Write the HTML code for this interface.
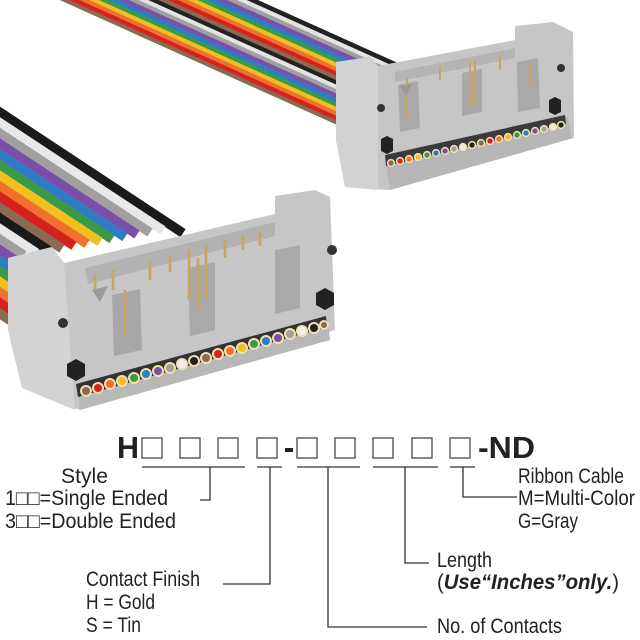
<!DOCTYPE html>
<html><head><meta charset="utf-8"><style>
html,body{margin:0;padding:0;background:#fff}
svg{display:block}
text{font-family:"Liberation Sans",sans-serif;fill:#222}
</style></head><body>
<svg width="640" height="640" viewBox="0 0 640 640" xmlns="http://www.w3.org/2000/svg">
<!-- Upper cable -->
<g stroke-width="4.6" stroke-linecap="butt">
<line x1="43" y1="-10" x2="355" y2="130.5" stroke="#8a6a50"/>
<line x1="52.85" y1="-10" x2="364.85" y2="130.5" stroke="#d8201e"/>
<line x1="62.7" y1="-10" x2="374.7" y2="130.5" stroke="#f07030"/>
<line x1="72.55" y1="-10" x2="384.55" y2="130.5" stroke="#f0c020"/>
<line x1="82.4" y1="-10" x2="394.4" y2="130.5" stroke="#3a9a4a"/>
<line x1="92.25" y1="-10" x2="404.25" y2="130.5" stroke="#2f7bc8"/>
<line x1="102.1" y1="-10" x2="414.1" y2="130.5" stroke="#7a4fa8"/>
<line x1="111.95" y1="-10" x2="423.95" y2="130.5" stroke="#a0a0a0"/>
<line x1="121.8" y1="-10" x2="433.8" y2="130.5" stroke="#e4e4e4"/>
<line x1="131.65" y1="-10" x2="443.65" y2="130.5" stroke="#222"/>
<line x1="141.5" y1="-10" x2="453.5" y2="130.5" stroke="#8a6a50"/>
<line x1="151.35" y1="-10" x2="463.35" y2="130.5" stroke="#d8201e"/>
<line x1="161.2" y1="-10" x2="473.2" y2="130.5" stroke="#f07030"/>
<line x1="171.05" y1="-10" x2="483.05" y2="130.5" stroke="#f0c020"/>
<line x1="180.9" y1="-10" x2="492.9" y2="130.5" stroke="#3a9a4a"/>
<line x1="190.75" y1="-10" x2="502.75" y2="130.5" stroke="#2f7bc8"/>
<line x1="200.6" y1="-10" x2="512.6" y2="130.5" stroke="#7a4fa8"/>
<line x1="210.45" y1="-10" x2="522.45" y2="130.5" stroke="#a0a0a0"/>
<line x1="220.3" y1="-10" x2="532.3" y2="130.5" stroke="#e4e4e4"/>
<line x1="230.15" y1="-10" x2="542.15" y2="130.5" stroke="#222"/>
</g>
<!-- Lower cable -->
<g stroke-width="9.5">
<line x1="-10" y1="105.7" x2="183" y2="233.1" stroke="#1a1a1a"/>
<line x1="-10" y1="116.3" x2="163" y2="230.5" stroke="#e8e8e8"/>
<line x1="-10" y1="126.9" x2="150" y2="232.5" stroke="#a0a0a0"/>
<line x1="-10" y1="137.5" x2="137" y2="234.5" stroke="#7a4fa8"/>
<line x1="-10" y1="148.1" x2="125" y2="237.2" stroke="#2f7bc8"/>
<line x1="-10" y1="158.7" x2="112" y2="239.2" stroke="#3a9a4a"/>
<line x1="-10" y1="169.3" x2="100" y2="241.9" stroke="#f0c020"/>
<line x1="-10" y1="179.9" x2="87" y2="243.9" stroke="#f07030"/>
<line x1="-10" y1="190.5" x2="74" y2="245.9" stroke="#d8201e"/>
<line x1="-10" y1="201.1" x2="62" y2="248.6" stroke="#8a6a50"/>
<line x1="-10" y1="211.7" x2="49" y2="250.6" stroke="#1a1a1a"/>
<line x1="-10" y1="222.3" x2="36" y2="252.7" stroke="#e8e8e8"/>
<line x1="-10" y1="232.9" x2="24" y2="255.3" stroke="#a0a0a0"/>
<line x1="-10" y1="243.5" x2="19" y2="262.6" stroke="#7a4fa8"/>
<line x1="-10" y1="254.1" x2="15" y2="270.6" stroke="#2f7bc8"/>
<line x1="-10" y1="264.7" x2="15" y2="281.2" stroke="#3a9a4a"/>
<line x1="-10" y1="275.3" x2="15" y2="291.8" stroke="#f0c020"/>
<line x1="-10" y1="285.9" x2="15" y2="302.4" stroke="#f07030"/>
<line x1="-10" y1="296.5" x2="15" y2="313" stroke="#d8201e"/>
<line x1="-10" y1="307.1" x2="15" y2="323.6" stroke="#8a6a50"/>
</g>

<!-- Back connector -->
<g>
<polygon points="336,62 370,57 378,66 515,40 515,26 553,22 573,32 574,138 390,190 345,187 336,140" fill="#c6c6c6"/>
<polygon points="336,62 370,57 378,66 378,190 345,187 336,140" fill="#d2d2d2"/>
<polygon points="395,72 515,48 515,58 395,82" fill="#b4b4b4"/>
<polygon points="398,85 418,81 420,128 400,132" fill="#a9a9a9"/>
<polygon points="462,73 482,69 482,112 462,116" fill="#a9a9a9"/>
<polygon points="517,62 538,58 540,108 518,112" fill="#a9a9a9"/>
<g stroke="#c8a65a" stroke-width="2">
<line x1="407" y1="78" x2="407" y2="120"/><line x1="440" y1="66" x2="440" y2="80"/><line x1="470" y1="62" x2="470" y2="108"/><line x1="475" y1="60" x2="475" y2="105"/><line x1="500" y1="56" x2="500" y2="70"/><line x1="530" y1="62" x2="530" y2="85"/>
</g>
<polygon points="400,86 412,84 406,96" fill="#9a9a9a"/>
<polygon points="385,158 568,117 572,138 390,190" fill="#b6b6b6"/>
<polygon points="385,155 565,115 566,124 386,166" fill="#3a3a3a"/>
<circle cx="381" cy="108" r="4" fill="#333"/>
<circle cx="561" cy="68" r="4" fill="#333"/>
<polygon points="381,139 387,136 393,139 393,151 387,154 381,151" fill="#222"/>
<polygon points="549,100 555,97 561,100 561,112 555,115 549,112" fill="#222"/>
<g stroke-width="1.5" stroke="#f0e0b0">
<circle cx="391" cy="163" r="3.4" fill="#8a6a50"/><circle cx="400" cy="161" r="3.4" fill="#d8201e"/><circle cx="409" cy="159" r="3.4" fill="#f07030"/><circle cx="418" cy="157" r="3.4" fill="#f0c020"/><circle cx="427" cy="155" r="3.4" fill="#3a9a4a"/><circle cx="436" cy="153" r="3.4" fill="#2f7bc8"/><circle cx="445" cy="151" r="3.4" fill="#7a4fa8"/><circle cx="454" cy="149" r="3.4" fill="#a0a0a0"/><circle cx="463" cy="147" r="3.4" fill="#eee"/><circle cx="472" cy="145" r="3.4" fill="#222"/><circle cx="481" cy="143" r="3.4" fill="#8a6a50"/><circle cx="490" cy="141" r="3.4" fill="#d8201e"/><circle cx="499" cy="139" r="3.4" fill="#f07030"/><circle cx="508" cy="137" r="3.4" fill="#f0c020"/><circle cx="517" cy="135" r="3.4" fill="#3a9a4a"/><circle cx="526" cy="133" r="3.4" fill="#2f7bc8"/><circle cx="535" cy="131" r="3.4" fill="#7a4fa8"/><circle cx="544" cy="129" r="3.4" fill="#a0a0a0"/><circle cx="553" cy="127" r="3.4" fill="#eee"/><circle cx="561" cy="125" r="3.4" fill="#222"/>
</g>
</g>

<!-- Front connector -->
<g>
<polygon points="8,258 52,247 64,263 275,214 275,196 315,190 330,197 335,330 80,410 22,388 8,330" fill="#c6c6c6"/>
<polygon points="8,258 52,247 64,263 75,410 22,388 8,330" fill="#d3d3d3"/>
<polygon points="85,268 275,222 275,236 88,284" fill="#b2b2b2"/>
<polygon points="112,295 140,289 142,350 114,356" fill="#a7a7a7"/>
<polygon points="188,268 215,262 215,330 190,336" fill="#a9a9a9"/>
<polygon points="275,250 300,245 300,308 275,314" fill="#a9a9a9"/>
<g stroke="#c8a65a" stroke-width="2.6">
<line x1="95" y1="275" x2="95" y2="290"/><line x1="113" y1="270" x2="113" y2="290"/><line x1="125" y1="290" x2="125" y2="335"/><line x1="150" y1="262" x2="150" y2="280"/><line x1="170" y1="256" x2="170" y2="272"/><line x1="189" y1="250" x2="189" y2="300"/><line x1="198" y1="258" x2="198" y2="310"/><line x1="206" y1="245" x2="206" y2="300"/><line x1="225" y1="240" x2="225" y2="258"/><line x1="243" y1="236" x2="243" y2="250"/><line x1="260" y1="232" x2="260" y2="246"/>
</g>
<polygon points="92,290 108,286 100,302" fill="#9a9a9a"/>
<polygon points="78,388 328,320 330,340 80,410" fill="#b8b8b8"/>
<polygon points="76,384 326,316 327,327 78,397" fill="#333"/>
<circle cx="63" cy="323" r="5" fill="#333"/>
<circle cx="332" cy="250" r="5" fill="#333"/>
<polygon points="67,364 76,359 85,364 85,376 76,381 67,376" fill="#222"/>
<polygon points="316,293 325,288 334,293 334,305 325,310 316,305" fill="#222"/>
<g stroke-width="2" stroke="#f0e0b0">
<circle cx="86" cy="391" r="5" fill="#8a6a50"/><circle cx="98" cy="388" r="5" fill="#d8201e"/><circle cx="110" cy="384" r="5" fill="#f07030"/><circle cx="122" cy="381" r="5" fill="#f0c020"/><circle cx="134" cy="378" r="5" fill="#3a9a4a"/><circle cx="146" cy="374" r="5" fill="#2f7bc8"/><circle cx="158" cy="371" r="5" fill="#7a4fa8"/><circle cx="170" cy="368" r="5" fill="#a0a0a0"/><circle cx="182" cy="364" r="5" fill="#eee"/><circle cx="194" cy="361" r="5" fill="#222"/><circle cx="206" cy="358" r="5" fill="#8a6a50"/><circle cx="218" cy="354" r="5" fill="#d8201e"/><circle cx="230" cy="351" r="5" fill="#f07030"/><circle cx="242" cy="348" r="5" fill="#f0c020"/><circle cx="254" cy="344" r="5" fill="#3a9a4a"/><circle cx="266" cy="341" r="5" fill="#2f7bc8"/><circle cx="278" cy="338" r="5" fill="#7a4fa8"/><circle cx="290" cy="334" r="5" fill="#a0a0a0"/><circle cx="302" cy="331" r="5" fill="#eee"/><circle cx="314" cy="328" r="5" fill="#222"/><circle cx="324" cy="325" r="4" fill="#8a6a50"/>
</g>
</g>

<!-- Part number -->
<text x="117" y="458" font-size="31" font-weight="bold" textLength="22" lengthAdjust="spacingAndGlyphs">H</text>
<g fill="none" stroke="#555" stroke-width="1.4">
<rect x="142" y="438" width="20" height="20"/><rect x="180" y="438" width="20" height="20"/><rect x="218" y="438" width="20" height="20"/><rect x="257" y="438" width="20" height="20"/>
<rect x="297" y="438" width="20" height="20"/><rect x="335" y="438" width="20" height="20"/><rect x="373" y="438" width="20" height="20"/><rect x="412" y="438" width="20" height="20"/><rect x="450" y="438" width="20" height="20"/>
</g>
<rect x="285" y="448" width="8" height="4" fill="#222"/>
<text x="478" y="458" font-size="31" font-weight="bold" textLength="57" lengthAdjust="spacingAndGlyphs">-ND</text>

<g fill="none" stroke="#333" stroke-width="1.3">
<line x1="142" y1="467" x2="245" y2="467"/><line x1="257" y1="467" x2="282" y2="467"/><line x1="297" y1="467" x2="360" y2="467"/><line x1="373" y1="467" x2="438" y2="467"/><line x1="450" y1="467" x2="475" y2="467"/>
<polyline points="210,467 210,500 200,500"/>
<polyline points="270,467 270,584 223,584"/>
<polyline points="328,467 328,627 427,627"/>
<polyline points="405,467 405,563 429,563"/>
<polyline points="463,467 463,497 517,497"/>
</g>

<g font-size="21">
<text x="61" y="483" textLength="47" lengthAdjust="spacingAndGlyphs">Style</text>
<text x="5" y="505" textLength="163" lengthAdjust="spacingAndGlyphs">1□□=Single Ended</text>
<text x="5" y="528" textLength="171" lengthAdjust="spacingAndGlyphs">3□□=Double Ended</text>
<text x="86" y="586" textLength="114" lengthAdjust="spacingAndGlyphs">Contact Finish</text>
<text x="86" y="609" textLength="69" lengthAdjust="spacingAndGlyphs">H = Gold</text>
<text x="86" y="632" textLength="55" lengthAdjust="spacingAndGlyphs">S = Tin</text>
<text x="437" y="567" textLength="55" lengthAdjust="spacingAndGlyphs">Length</text>
<text x="437" y="589" textLength="182" lengthAdjust="spacingAndGlyphs">(<tspan font-weight="bold" font-style="italic">Use“Inches”only.</tspan>)</text>
<text x="437" y="633" textLength="125" lengthAdjust="spacingAndGlyphs">No. of Contacts</text>
<text x="518" y="483" textLength="106" lengthAdjust="spacingAndGlyphs">Ribbon Cable</text>
<text x="518" y="505" textLength="117" lengthAdjust="spacingAndGlyphs">M=Multi-Color</text>
<text x="518" y="528" textLength="60" lengthAdjust="spacingAndGlyphs">G=Gray</text>
</g>
</svg>
</body></html>
